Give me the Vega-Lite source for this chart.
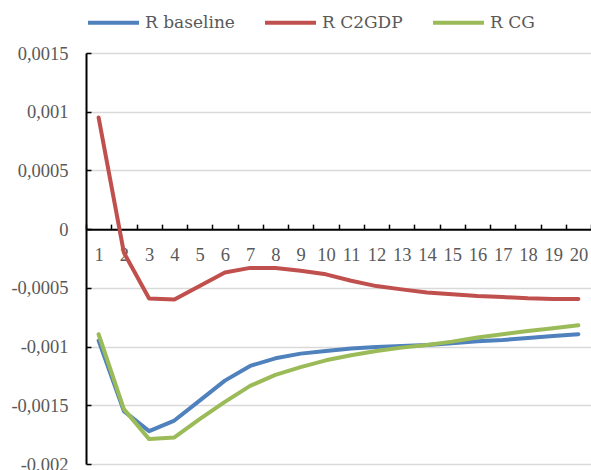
{
  "$schema": "https://vega.github.io/schema/vega-lite/v6.json",
  "width": 505,
  "height": 411,
  "autosize": {"type": "none"},
  "padding": {"left": 86, "top": 53, "right": 0, "bottom": 6},
  "background": "white",
  "config": {
    "view": {"stroke": null},
    "axis": {"labelFont": "Liberation Serif", "labelFontSize": 18.5, "labelColor": "#595959"},
    "legend": {"labelFont": "DejaVu Serif", "labelFontSize": 17, "labelColor": "#595959"}
  },
  "data": {
    "values": [
      {"t": 1, "R baseline": -0.00095, "R C2GDP": 0.00095, "R CG": -0.000895},
      {"t": 2, "R baseline": -0.00155, "R C2GDP": -0.0002, "R CG": -0.001533},
      {"t": 3, "R baseline": -0.00172, "R C2GDP": -0.00059, "R CG": -0.001788},
      {"t": 4, "R baseline": -0.00163, "R C2GDP": -0.0006, "R CG": -0.001774},
      {"t": 5, "R baseline": -0.00146, "R C2GDP": -0.000485, "R CG": -0.001618},
      {"t": 6, "R baseline": -0.00129, "R C2GDP": -0.00037, "R CG": -0.001471},
      {"t": 7, "R baseline": -0.001165, "R C2GDP": -0.00033, "R CG": -0.001335},
      {"t": 8, "R baseline": -0.0011, "R C2GDP": -0.00033, "R CG": -0.001241},
      {"t": 9, "R baseline": -0.00106, "R C2GDP": -0.000355, "R CG": -0.001175},
      {"t": 10, "R baseline": -0.001037, "R C2GDP": -0.000385, "R CG": -0.001117},
      {"t": 11, "R baseline": -0.001017, "R C2GDP": -0.00044, "R CG": -0.001074},
      {"t": 12, "R baseline": -0.001003, "R C2GDP": -0.000485, "R CG": -0.001037},
      {"t": 13, "R baseline": -0.000995, "R C2GDP": -0.000513, "R CG": -0.001009},
      {"t": 14, "R baseline": -0.000986, "R C2GDP": -0.00054, "R CG": -0.000986},
      {"t": 15, "R baseline": -0.000972, "R C2GDP": -0.000555, "R CG": -0.000958},
      {"t": 16, "R baseline": -0.000955, "R C2GDP": -0.00057, "R CG": -0.000923},
      {"t": 17, "R baseline": -0.000944, "R C2GDP": -0.000578, "R CG": -0.000895},
      {"t": 18, "R baseline": -0.000927, "R C2GDP": -0.000589, "R CG": -0.000867},
      {"t": 19, "R baseline": -0.00091, "R C2GDP": -0.000595, "R CG": -0.000844},
      {"t": 20, "R baseline": -0.000895, "R C2GDP": -0.000595, "R CG": -0.000819}
    ]
  },
  "transform": [
    {"fold": ["R baseline", "R C2GDP", "R CG"], "as": ["series", "value"]}
  ],
  "mark": {"type": "line", "strokeWidth": 4, "strokeCap": "round", "strokeJoin": "round"},
  "encoding": {
    "x": {
      "field": "t",
      "type": "ordinal",
      "scale": {"type": "band", "paddingInner": 0, "paddingOuter": 0},
      "axis": {
        "title": null,
        "labelAngle": 0,
        "offset": -234.86,
        "domainColor": "black",
        "domainWidth": 2,
        "tickColor": "black",
        "tickWidth": 1.5,
        "tickSize": -5,
        "tickBand": "extent",
        "labelPadding": 21,
        "grid": false
      }
    },
    "y": {
      "field": "value",
      "type": "quantitative",
      "scale": {"domain": [-0.002, 0.0015], "nice": false, "zero": false},
      "axis": {
        "title": null,
        "values": [-0.002, -0.0015, -0.001, -0.0005, 0, 0.0005, 0.001, 0.0015],
        "labelExpr": "replace(toString(datum.value), '.', ',')",
        "domainColor": "black",
        "domainWidth": 2,
        "tickColor": "black",
        "tickWidth": 1.5,
        "tickSize": -5,
        "labelPadding": 23,
        "gridColor": "#d9d9d9",
        "gridWidth": 1.5
      }
    },
    "color": {
      "field": "series",
      "type": "nominal",
      "scale": {"domain": ["R baseline", "R C2GDP", "R CG"], "range": ["#4f81bd", "#c0504d", "#9bbb59"]},
      "legend": {
        "title": null,
        "orient": "none",
        "direction": "horizontal",
        "legendX": 0,
        "legendY": -58,
        "symbolType": "stroke",
        "symbolSize": 2600,
        "symbolStrokeWidth": 4,
        "labelOffset": 4,
        "columnPadding": 22,
        "padding": 0
      }
    }
  }
}
